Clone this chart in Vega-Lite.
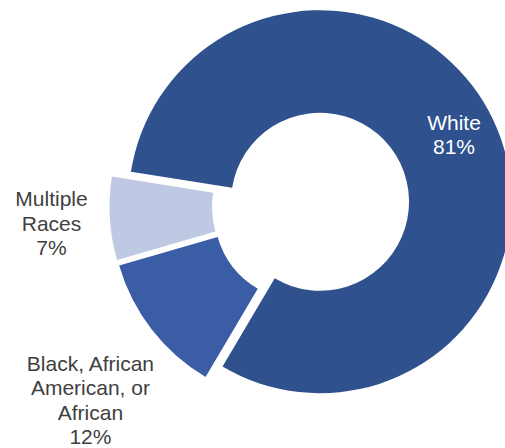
{
  "$schema": "https://vega.github.io/schema/vega-lite/v6.json",
  "width": 388,
  "height": 412,
  "autosize": "none",
  "padding": {"left": 117, "top": 0, "right": 0, "bottom": 36},
  "background": "white",
  "config": {"view": {"stroke": null}},
  "data": {"values": [
    {"race": "White", "value": 81, "label": "White\n81%"},
    {"race": "Black, African American, or African", "value": 12, "label": "Black, African\nAmerican, or\nAfrican\n12%"},
    {"race": "Multiple Races", "value": 7, "label": "Multiple\nRaces\n7%"}
  ]},
  "encoding": {
    "theta": {"field": "value", "type": "quantitative", "stack": true, "scale": {"range": [3.676, 9.959]}}
  },
  "layer": [
    {
      "mark": {
        "type": "arc",
        "outerRadius": 191.5,
        "innerRadius": 89,
        "xOffset": {"expr": "10*sin(scale('theta', (datum.value_start + datum.value_end)/2))"},
        "yOffset": {"expr": "-10*cos(scale('theta', (datum.value_start + datum.value_end)/2))"}
      },
      "encoding": {
        "color": {
          "field": "race", "type": "nominal", "legend": null,
          "scale": {"domain": ["Black, African American, or African", "Multiple Races", "White"], "range": ["#3a5da5", "#bfc9e3", "#2f528f"]}
        }
      }
    },
    {
      "mark": {"type": "text", "radius": 158, "dy": -15, "font": "Liberation Sans", "fontSize": 21, "lineHeight": 24.5, "lineBreak": "\n", "fill": "#ffffff", "align": "center", "baseline": "middle"},
      "encoding": {
        "text": {"condition": {"test": "datum.race === 'White'", "field": "label"}, "value": ""}
      }
    },
    {
      "mark": {"type": "text", "radius": 260, "dy": -22, "font": "Liberation Sans", "fontSize": 21, "lineHeight": 24.5, "lineBreak": "\n", "fill": "#404040", "align": "center", "baseline": "middle"},
      "encoding": {
        "text": {"condition": {"test": "datum.race === 'Multiple Races'", "field": "label"}, "value": ""}
      }
    },
    {
      "mark": {"type": "text", "radius": 293, "dx": 11, "dy": -21, "font": "Liberation Sans", "fontSize": 21, "lineHeight": 24.5, "lineBreak": "\n", "fill": "#404040", "align": "center", "baseline": "middle"},
      "encoding": {
        "text": {"condition": {"test": "datum.race === 'Black, African American, or African'", "field": "label"}, "value": ""}
      }
    }
  ]
}
